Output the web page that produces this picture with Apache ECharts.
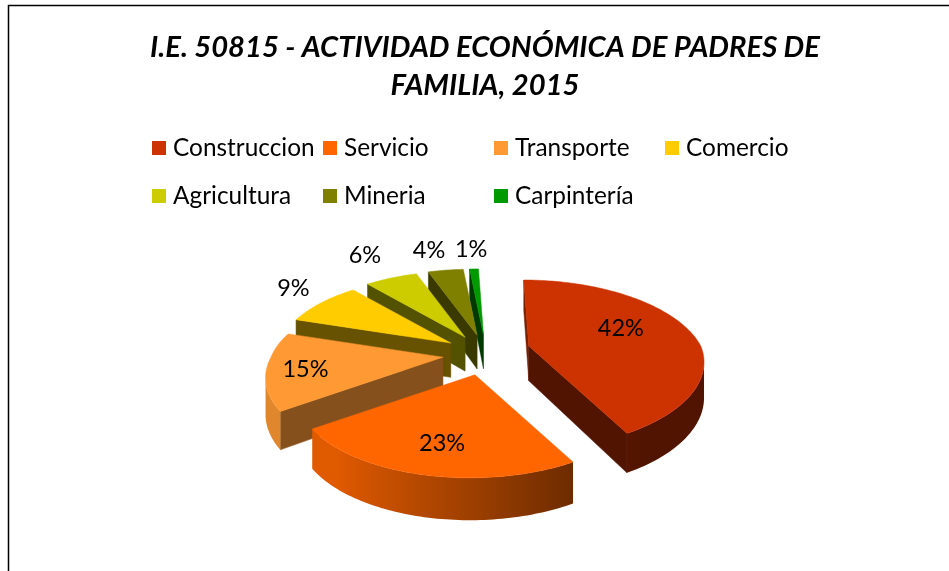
<!DOCTYPE html>
<html><head><meta charset="utf-8">
<style>html,body{margin:0;padding:0;background:#fff}#c{width:949px;height:571px}</style>
<script src="https://cdn.jsdelivr.net/npm/echarts@6/dist/echarts.min.js"></script>
</head><body><div id="c"></div>
<script>
const titleText = 'I.E. 50815 - ACTIVIDAD ECONÓMICA DE PADRES DE\nFAMILIA, 2015';
const categories = ['Construccion','Servicio','Transporte','Comercio','Agricultura','Mineria','Carpintería'];
const values = [42,23,15,9,6,4,1];
const colors = ['#CC3300','#FF6600','#FF9933','#FFCC00','#CCCC00','#808000','#009900'];
const startCutShade = [0.6,0.4,0.52,0.4,0.4,0.45,0.38];
const paintOrder = [6,5,4,3,2,0,1];
const sliceNudge = [[2,-3],[0,0],[0,0],[0,0],[0,0],[0,0],[0,0]];
const labelNudge = [[-4,-6],[-4,15],[-33,5],[-3,-7],[-13,-12],[-11,-8],[-1,-8]];
const legendPos = [[152,136],[323,136],[494,136],[665,136],[152,184],[323,184],[494,184]];

const cx=486, cy=354, R=172, K=80.5, P=0.219, LEAN=5, EXPLODE=0.25, DEPTH=35, DEPTH_P=0.14;
const total = values.reduce((a,b)=>a+b,0);
const proj=(u,v)=>{const s=1/(1-P*v);return [R*u*s-LEAN*Math.abs(v),K*v*s];};
function shade(hex,f){
  const n=parseInt(hex.slice(1),16);
  const c=[(n>>16)&255,(n>>8)&255,n&255].map(x=>Math.round(x*f));
  return 'rgb('+c.join(',')+')';
}
const arcShade=u=>Math.min(0.88,Math.max(0.39,0.62-0.4*u));
function drawSlice(i){
  let before=0; for(let k=0;k<i;k++) before+=values[k];
  const a0=before/total*2*Math.PI, a1=(before+values[i])/total*2*Math.PI, mid=(a0+a1)/2;
  const du=Math.sin(mid), dv=-Math.cos(mid);
  const off=proj(EXPLODE*du,EXPLODE*dv);
  const ax=cx+off[0]+sliceNudge[i][0], ay=cy+off[1]+sliceNudge[i][1];
  const col=colors[i];
  const n=Math.max(4,Math.ceil((a1-a0)/0.02));
  const pts=[{x:ax,y:ay,v:EXPLODE*dv,u:0}];
  for(let j=0;j<=n;j++){
    const t=a0+(a1-a0)*j/n, u=Math.sin(t), v=-Math.cos(t), p=proj(u,v);
    pts.push({x:ax+p[0],y:ay+p[1],v:v+EXPLODE*dv,u:u});
  }
  const thick=q=>DEPTH/(1-DEPTH_P*q.v);
  const poly=(points,fill)=>({type:'polygon',silent:true,shape:{points},style:{fill,stroke:fill,lineWidth:0.5}});
  const quad=(a,b,f)=>poly([[a.x,a.y],[b.x,b.y],[b.x,b.y+thick(b)],[a.x,a.y+thick(a)]],shade(col,f));
  const kids=[];
  const m=pts.length;
  if(pts[1].x<pts[0].x) kids.push(quad(pts[0],pts[1],startCutShade[i]));
  if(pts[0].x<pts[m-1].x) kids.push(quad(pts[m-1],pts[0],0.39));
  const run=[];
  for(let j=1;j<m-1;j++){
    if(pts[j+1].x<pts[j].x){ if(!run.length) run.push(pts[j]); run.push(pts[j+1]); }
  }
  if(run.length>1){
    const xR=run[0].x, xL=run[run.length-1].x;
    const stops=run.slice().reverse().map(q=>({offset:(q.x-xL)/(xR-xL),color:shade(col,arcShade(q.u))}));
    const outline=run.map(q=>[q.x,q.y]).concat(run.slice().reverse().map(q=>[q.x,q.y+thick(q)]));
    const fill=new echarts.graphic.LinearGradient(0,0,1,0,stops);
    kids.push({type:'polygon',silent:true,shape:{points:outline},style:{fill}});
  }
  kids.push(poly(pts.map(q=>[q.x,q.y]),col));
  const inside=i<3, f=inside?0.6:1.22;
  const lp=proj(f*du,f*dv);
  kids.push({type:'text',silent:true,z2:50,style:{
    text:Math.round(values[i]/total*100)+'%',
    x:ax+lp[0]+labelNudge[i][0], y:ay+lp[1]+labelNudge[i][1],
    align:'center',verticalAlign:'middle',fill:'#000',font:'23.5px Lato'}});
  return {type:'group',children:kids};
}
const chart=echarts.init(document.getElementById('c'),null,{renderer:'canvas'});
chart.setOption({
  animation:false,
  backgroundColor:'#fff',
  title:{text:titleText,left:480,top:24,textAlign:'center',
    textStyle:{fontFamily:'Lato',fontStyle:'italic',fontWeight:'bold',fontSize:29.2,lineHeight:38,color:'#000'}},
  legend:categories.map((c,i)=>({data:[c],left:legendPos[i][0],top:legendPos[i][1],
    icon:'rect',itemWidth:14,itemHeight:14,selectedMode:false,padding:0,
    textStyle:{fontFamily:'Lato',fontSize:24.4,color:'#000',padding:[0,0,0,2]}})),
  graphic:[{type:'rect',silent:true,shape:{x:8.5,y:5.5,width:1100,height:1100},
    style:{fill:'none',stroke:'#000',lineWidth:1.5}}],
  series:paintOrder.map(i=>({
    type:'custom',name:categories[i],coordinateSystem:'none',
    itemStyle:{color:colors[i]},
    data:[[values[i]]],
    renderItem:()=>drawSlice(i)
  }))
});
</script></body></html>
